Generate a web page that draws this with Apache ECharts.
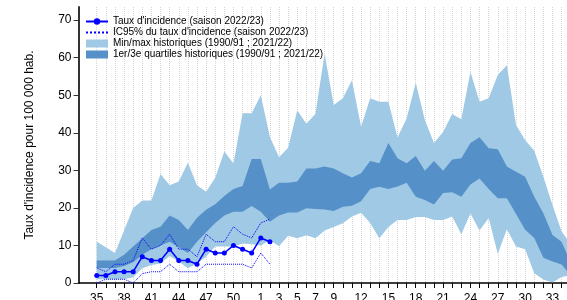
<!DOCTYPE html>
<html>
<head>
<meta charset="utf-8">
<style>
  html, body { margin: 0; padding: 0; background: #fff; }
  #chart { width: 567px; height: 300px; }
</style>
<script src="https://cdn.jsdelivr.net/npm/echarts@6/dist/echarts.min.js"></script>
</head>
<body>
<div id="chart"></div>
<script>
// semaines de l'axe (deux semaines vides avant la semaine 35)
const weeks = [33, 34, 35, 36, 37, 38, 39, 40, 41, 42, 43, 44, 45, 46, 47, 48, 49, 50, 51, 52,
  1, 2, 3, 4, 5, 6, 7, 8, 9, 10, 11, 12, 13, 14, 15, 16, 17, 18, 19, 20, 21, 22, 23, 24,
  25, 26, 27, 28, 29, 30, 31, 32, 33, 34, 35];
const tickLabels = [35, 38, 41, 44, 47, 50, 1, 3, 5, 7, 9, 12, 15, 18, 21, 24, 27, 30, 33];
const PAD = 2;

// historique 1990/91 - 2021/22 (à partir de la semaine 35)
const histMin = [1, 1, 1, 1, 1.5, 3.9, 4.8, 5.2, 7.2, 5.7, 3.9, 5.2, 7,
  9.7, 9.7, 9.7, 10.5, 10.3, 10, 11.4, 9.8, 12.6, 11.9, 12.7, 11.9, 14,
  14.9, 15.9, 17.7, 18.7, 16, 11.9, 14.9, 16.8, 16.8, 17.6, 17.6, 16.8, 16.8,
  17.7, 13, 18.5, 14, 17.3, 7.8, 14.3, 9.7, 9, 2.6, 0.9, 0.1, 1.6, 2];
const histQ1 = [4, 4, 4, 4.5, 5.5, 7.5, 9, 10, 11, 9.5, 8, 11, 13.5,
  16, 18, 19, 19, 20.5, 19, 16.3, 18, 18.8, 18.8, 19.9, 19.7, 19.6,
  19.2, 20.3, 20.6, 21.8, 25, 25.6, 25, 25.7, 26.7, 23, 22.1, 20.9, 24,
  24.2, 23, 26.2, 27.8, 25, 22.6, 22.6, 18.4, 14.2, 12, 6.7, 5.7, 4.9, 2];
const histQ3 = [6, 6, 6, 7.5, 9.7, 11.9, 14.1, 15, 18, 16.8, 14.1, 17.4, 19.5,
  21, 23.2, 25, 25.8, 33, 33, 24.9, 26.7, 26.7, 27, 30.5, 30.5, 31,
  30.5, 29.2, 28.1, 29.2, 32.5, 31.9, 37.3, 33.2, 31.9, 33.8, 29.9, 32.5, 29.9,
  32.9, 33.2, 37.3, 38.8, 35.9, 35.6, 31, 29.6, 28.3, 23, 18.6, 12.8, 11, 5.5];
const histMax = [11, 9.5, 8, 14, 20, 22, 22, 29, 26, 27, 32, 26, 24.3,
  28, 35, 31.8, 45.2, 45.2, 50, 38.9, 33.5, 36, 46, 42.4, 45.1, 61.1,
  47.4, 49.2, 54, 41.6, 49.2, 48.3, 48.3, 38.8, 43.8, 53.3, 43.4, 37.3, 40.2,
  45, 43.6, 56.2, 48.3, 49.2, 55.4, 58, 42.1, 38.1, 35.2, 28.3, 20.8, 13.7, 10.5];

// saison 2022/23
const incidence = [2, 2, 3, 3, 3, 7, 6, 6, 9, 6, 6, 5, 9, 8, 8, 10, 9, 8, 12, 11];
const ciHigh = [4, 3, 5, 5, 6, 12, 9, 10, 13, 9, 9, 7, 13, 11, 11, 15, 13, 12, 16, 17];
const ciLow = [0, 1, 1, 1, 0, 2.5, 3, 3, 5, 3, 3, 3, 5, 5, 5, 5, 5, 4, 8, 5];

const NAME_INC = "Taux d'incidence (saison 2022/23)";
const NAME_CI = "IC95% du taux d'incidence (saison 2022/23)";
const NAME_MM = "Min/max historiques (1990/91 ; 2021/22)";
const NAME_Q = "1er/3e quartiles historiques (1990/91 ; 2021/22)";

const LIGHT = '#a0c9e5';
const DARK = '#5591c8';
const BLUE = '#0000ff';
const FONT = 'Liberation Sans, Arial, sans-serif';

const blanks = new Array(PAD).fill(null);
const padded = (arr) => blanks.concat(arr);
const diff = (hi, lo) => blanks.concat(hi.map((v, i) => +(v - lo[i]).toFixed(2)));
const labelIdx = tickLabels.map(w => weeks.indexOf(w, PAD));
const cats = weeks.map((w, i) => String(i));

const hidden = { lineStyle: { opacity: 0, width: 0 }, symbol: 'none', silent: true };

const chart = echarts.init(document.getElementById('chart'));
chart.setOption({
  animation: false,
  textStyle: { fontFamily: FONT },
  grid: { left: 78.5, right: -3.7, top: 7, bottom: 17, containLabel: false, outerBoundsMode: 'none' },
  legend: {
    orient: 'vertical',
    left: 80,
    top: 11.5,
    itemWidth: 22,
    itemHeight: 8,
    itemGap: 1,
    textStyle: { fontSize: 10, color: '#000', fontFamily: FONT },
    data: [
      { name: NAME_INC },
      { name: NAME_CI, itemStyle: { opacity: 0 } },
      { name: NAME_MM, icon: 'rect' },
      { name: NAME_Q, icon: 'rect' }
    ]
  },
  xAxis: {
    type: 'category',
    data: cats,
    boundaryGap: false,
    axisLine: { onZero: false, lineStyle: { color: '#000', width: 1.5 } },
    axisTick: { length: 5, interval: (i) => i >= PAD, lineStyle: { color: '#000', width: 1 } },
    axisLabel: {
      interval: (i) => labelIdx.indexOf(i) >= 0,
      margin: 10,
      fontSize: 12,
      color: '#000',
      formatter: (v) => String(weeks[+v])
    },
    splitLine: { show: true, interval: (i) => i >= PAD,
      lineStyle: { color: '#d4d4d4', type: 'dotted', width: 1 } }
  },
  yAxis: {
    type: 'value',
    min: 0,
    max: 73.5,
    interval: 10,
    name: "Taux d'incidence pour 100 000 hab.",
    nameLocation: 'middle',
    nameGap: 43,
    nameTextStyle: { fontSize: 12, color: '#000' },
    axisLine: { show: true, lineStyle: { color: '#333', width: 2 } },
    axisTick: { show: true, length: 5, customValues: [0, 10, 20, 30, 40, 50, 60, 70],
      lineStyle: { color: '#333', width: 1 } },
    axisLabel: { customValues: [0, 10, 20, 30, 40, 50, 60, 70], margin: 7, fontSize: 12, color: '#000',
      formatter: (v) => v % 10 === 0 ? String(v) : '' },
    splitLine: { show: false }
  },
  series: [
    Object.assign({ type: 'line', name: '_minBase', stack: 'mm', data: padded(histMin) }, hidden),
    {
      type: 'line', name: NAME_MM, stack: 'mm', data: diff(histMax, histMin),
      color: LIGHT, symbol: 'none', silent: true,
      lineStyle: { width: 0, opacity: 0 },
      areaStyle: { color: LIGHT, opacity: 1 }
    },
    Object.assign({ type: 'line', name: '_q1Base', stack: 'q', data: padded(histQ1) }, hidden),
    {
      type: 'line', name: NAME_Q, stack: 'q', data: diff(histQ3, histQ1),
      color: DARK, symbol: 'none', silent: true,
      lineStyle: { width: 0, opacity: 0 },
      areaStyle: { color: DARK, opacity: 1 }
    },
    {
      type: 'line', name: NAME_CI, data: padded(ciHigh), color: BLUE,
      symbol: 'none', lineStyle: { color: BLUE, width: 1, type: 'dotted' }
    },
    {
      type: 'line', name: NAME_CI, data: padded(ciLow), color: BLUE,
      symbol: 'none', lineStyle: { color: BLUE, width: 1, type: 'dotted' }
    },
    {
      type: 'line', name: NAME_INC, data: padded(incidence), color: BLUE,
      symbol: 'circle', symbolSize: 5, showSymbol: true,
      lineStyle: { color: BLUE, width: 1.5 },
      itemStyle: { color: BLUE }
    }
  ]
});
</script>
</body>
</html>
